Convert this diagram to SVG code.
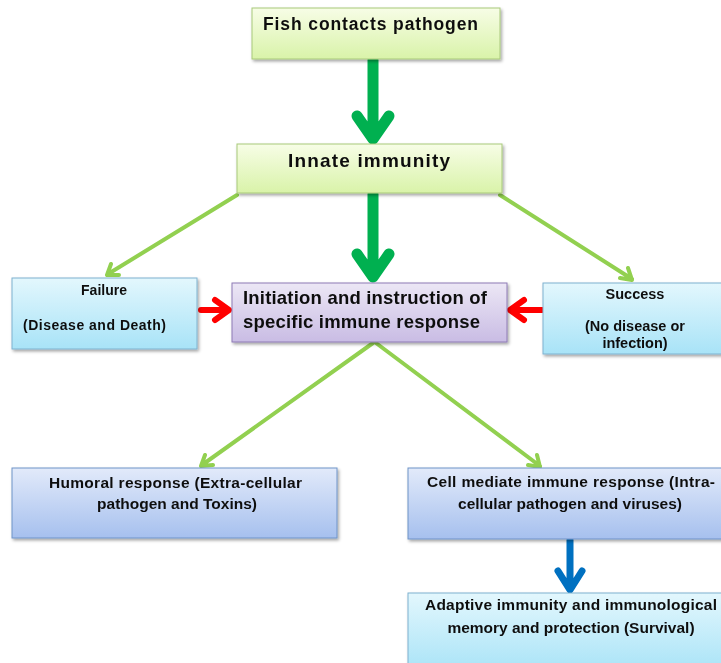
<svg xmlns="http://www.w3.org/2000/svg" width="721" height="663" viewBox="0 0 721 663">
<defs>
<linearGradient id="gGreen" x1="0" y1="0" x2="0" y2="1"><stop offset="0" stop-color="#f7fde6"/><stop offset="1" stop-color="#d9f3a9"/></linearGradient>
<linearGradient id="gCyan" x1="0" y1="0" x2="0" y2="1"><stop offset="0" stop-color="#e3f7fd"/><stop offset="1" stop-color="#a8e3f7"/></linearGradient>
<linearGradient id="gPurple" x1="0" y1="0" x2="0" y2="1"><stop offset="0" stop-color="#ece7f5"/><stop offset="1" stop-color="#c9bce4"/></linearGradient>
<linearGradient id="gBlue" x1="0" y1="0" x2="0" y2="1"><stop offset="0" stop-color="#e2eafa"/><stop offset="1" stop-color="#a6c0ee"/></linearGradient>
<filter id="sh" x="-10%" y="-10%" width="130%" height="140%"><feDropShadow dx="1.5" dy="2" stdDeviation="1.5" flood-color="#000" flood-opacity="0.35"/></filter>
</defs>
<style>
.t{font-family:"Liberation Sans",Arial,sans-serif;font-weight:bold;fill:#111}
.box{filter:url(#sh)}
.green{fill:url(#gGreen);stroke:#a8c97a;stroke-width:1}
.cyan{fill:url(#gCyan);stroke:#7fb2cf;stroke-width:1}
.purple{fill:url(#gPurple);stroke:#8e7bb5;stroke-width:1}
.blue{fill:url(#gBlue);stroke:#6f93c8;stroke-width:1}
.thick{fill:none;stroke:#00b050;stroke-width:11;stroke-linecap:round;stroke-linejoin:round}
.thin{fill:none;stroke:#92d050;stroke-width:4;stroke-linecap:round;stroke-linejoin:round}
.red{fill:none;stroke:#ff0000;stroke-width:6;stroke-linecap:round;stroke-linejoin:round}
.bluea{fill:none;stroke:#0070c0;stroke-width:7;stroke-linecap:round;stroke-linejoin:round}
</style>
<rect width="721" height="663" fill="#ffffff"/>
<g id="connectors">
<path class="thick" d="M373,60 V138 M357,116 L373,139 L389,116"/>
<path class="thick" d="M373,194 V276 M357,254 L373,277 L389,254"/>
<path class="thin" d="M237,195 L108,274 M111,264 L107,275 L119,275"/>
<path class="thin" d="M500,195 L632,279 M620,278 L632,280 L628,268"/>
<path class="red" d="M201,310 H228 M215,300 L229,310 L215,320"/>
<path class="red" d="M542,310 H511 M524,300 L510,310 L524,320"/>
<path class="thin" d="M373,343 L202,465 M205,455 L201,466 L213,465"/>
<path class="thin" d="M376,343 L540,466 M528,465 L540,467 L537,455"/>
<path class="bluea" d="M570,540 V588 M558,571 L570,590 L582,571"/>
</g>
<g id="fish" class="box"><rect class="green" x="252" y="8" width="248" height="51"/><text class="t" x="263" y="30" font-size="17.5" textLength="215">Fish contacts pathogen</text></g>
<g id="innate" class="box"><rect class="green" x="237" y="144" width="265" height="49"/><text class="t" x="288" y="167" font-size="19" textLength="162">Innate immunity</text></g>
<g id="failure" class="box"><rect class="cyan" x="12" y="278" width="185" height="71"/><text class="t" x="104" y="295" font-size="14" text-anchor="middle">Failure</text><text class="t" x="23" y="330" font-size="14" textLength="143">(Disease and Death)</text></g>
<g id="initiation" class="box"><rect class="purple" x="232" y="283" width="275" height="59"/><text class="t" x="243" y="304" font-size="18.5" textLength="244">Initiation and instruction of</text><text class="t" x="243" y="328" font-size="18.5" textLength="237">specific immune response</text></g>
<g id="success" class="box"><rect class="cyan" x="543" y="283" width="185" height="71"/><text class="t" x="635" y="299" font-size="14.5" text-anchor="middle">Success</text><text class="t" x="635" y="331" font-size="14.5" text-anchor="middle">(No disease or</text><text class="t" x="635" y="348" font-size="14.5" text-anchor="middle">infection)</text></g>
<g id="humoral" class="box"><rect class="blue" x="12" y="468" width="325" height="70"/><text class="t" x="49" y="488" font-size="15.5" textLength="253">Humoral response (Extra-cellular</text><text class="t" x="177" y="509" font-size="15.5" text-anchor="middle">pathogen and Toxins)</text></g>
<g id="cell" class="box"><rect class="blue" x="408" y="468" width="320" height="71"/><text class="t" x="427" y="487" font-size="15.5" textLength="288">Cell mediate immune response (Intra-</text><text class="t" x="570" y="509" font-size="15.5" text-anchor="middle">cellular pathogen and viruses)</text></g>
<g id="adaptive" class="box"><rect class="cyan" x="408" y="593" width="320" height="80"/><text class="t" x="425" y="610" font-size="15.5" textLength="292">Adaptive immunity and immunological</text><text class="t" x="571" y="633" font-size="15.5" text-anchor="middle">memory and protection (Survival)</text></g>
</svg>
